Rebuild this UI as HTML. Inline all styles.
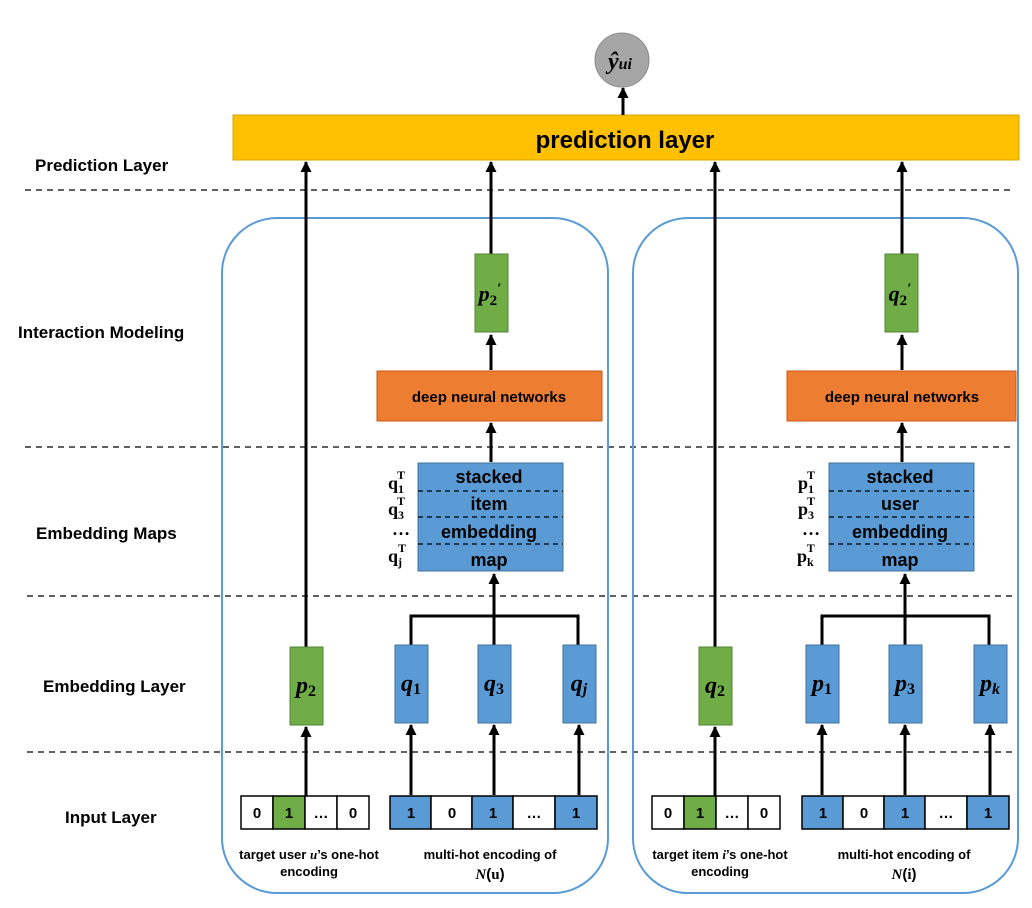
<!DOCTYPE html>
<html><head><meta charset="utf-8"><style>
html,body{margin:0;padding:0;background:#fff}
svg{display:block}
text{font-family:"Liberation Sans",sans-serif;font-weight:bold;fill:#000}
.m,.m text,.m tspan{font-family:"Liberation Serif",serif;font-style:italic;font-weight:bold}
.mn,.mn tspan{font-family:"Liberation Serif",serif;font-style:normal;font-weight:bold}
.m .up{font-style:normal}
</style></head><body>
<svg width="1032" height="908" viewBox="0 0 1032 908" xmlns="http://www.w3.org/2000/svg">
<defs>
<marker id="a" markerWidth="11" markerHeight="12" refX="10" refY="5.5" orient="auto" markerUnits="userSpaceOnUse">
<path d="M0,0 L11,5.5 L0,11 z" fill="#000"/></marker>
</defs>
<g stroke="#000" stroke-width="1.3" stroke-dasharray="6,5">
<line x1="25" y1="190" x2="1015" y2="190"/>
<line x1="25" y1="447" x2="1015" y2="447"/>
<line x1="27" y1="596" x2="1015" y2="596"/>
<line x1="27" y1="752" x2="1015" y2="752"/>
</g>
<g font-size="17">
<text x="35" y="171">Prediction Layer</text>
<text x="18" y="338">Interaction Modeling</text>
<text x="36" y="539">Embedding Maps</text>
<text x="43" y="692">Embedding Layer</text>
<text x="65" y="823">Input Layer</text>
</g>
<rect x="233" y="115" width="786" height="45" fill="#FFC000" stroke="#D9A300" stroke-width="1"/>
<text x="625" y="148" font-size="24" text-anchor="middle">prediction layer</text>
<line x1="623" y1="115" x2="623" y2="88" stroke="#000" stroke-width="3" marker-end="url(#a)"/>
<circle cx="622" cy="60" r="27" fill="#A6A6A6" stroke="#8c8c8c" stroke-width="1"/>
<text x="620" y="69" font-size="24" text-anchor="middle" class="m">ŷ<tspan font-size="16">ui</tspan></text>

<rect x="222" y="218" width="386" height="675" rx="55" fill="none" stroke="#5B9BD5" stroke-width="2"/>
<line x1="306" y1="647" x2="306" y2="162" stroke="#000" stroke-width="3" marker-end="url(#a)"/>
<line x1="491" y1="255" x2="491" y2="162" stroke="#000" stroke-width="3" marker-end="url(#a)"/>
<rect x="475" y="254" width="33" height="78" fill="#70AD47" stroke="#548235"/>
<text x="490" y="301" font-size="22" text-anchor="middle" class="m">p<tspan font-size="15" dy="4" class="up">2</tspan><tspan dy="-12" font-size="15">′</tspan></text>
<line x1="491" y1="370" x2="491" y2="335" stroke="#000" stroke-width="3" marker-end="url(#a)"/>
<rect x="377" y="371" width="225" height="50" fill="#ED7D31" stroke="#C55A11"/>
<text x="489" y="402" font-size="15" text-anchor="middle">deep neural networks</text>
<line x1="491" y1="462" x2="491" y2="423" stroke="#000" stroke-width="3" marker-end="url(#a)"/>
<rect x="418" y="463" width="145" height="108" fill="#5B9BD5" stroke="#41719C"/>
<g stroke="#000" stroke-width="1.2" stroke-dasharray="5,4">
<line x1="418" y1="491" x2="563" y2="491"/><line x1="418" y1="517" x2="563" y2="517"/><line x1="418" y1="544" x2="563" y2="544"/>
</g>
<g font-size="18" text-anchor="middle">
<text x="489" y="483">stacked</text><text x="489" y="510">item</text><text x="489" y="538">embedding</text><text x="489" y="566">map</text>
</g>
<g font-size="18">
<text x="388" y="489" class="mn">q<tspan font-size="12" dy="4">1</tspan><tspan font-size="12" dx="-7" dy="-14">T</tspan></text>
<text x="388" y="515" class="mn">q<tspan font-size="12" dy="4">3</tspan><tspan font-size="12" dx="-7" dy="-14">T</tspan></text>
<text x="392" y="535" class="mn">…</text>
<text x="388" y="562" class="mn">q<tspan font-size="12" dy="4">j</tspan><tspan font-size="12" dx="-4" dy="-14">T</tspan></text>
</g>
<path d="M411,645 V616 H578 V645" fill="none" stroke="#000" stroke-width="3"/>
<line x1="494" y1="645" x2="494" y2="574" stroke="#000" stroke-width="3" marker-end="url(#a)"/>
<rect x="290" y="647" width="33" height="78" fill="#70AD47" stroke="#548235"/>
<rect x="395" y="645" width="33" height="78" fill="#5B9BD5" stroke="#41719C"/>
<rect x="478" y="645" width="33" height="78" fill="#5B9BD5" stroke="#41719C"/>
<rect x="563" y="645" width="33" height="78" fill="#5B9BD5" stroke="#41719C"/>
<g font-size="24" text-anchor="middle" class="m">
<text x="306" y="693">p<tspan font-size="16" dy="3" class="up">2</tspan></text>
<text x="411" y="691">q<tspan font-size="16" dy="3" class="up">1</tspan></text>
<text x="494" y="691">q<tspan font-size="16" dy="3" class="up">3</tspan></text>
<text x="579" y="691">q<tspan font-size="16" dy="3">j</tspan></text>
</g>
<g stroke="#000" stroke-width="3">
<line x1="306" y1="796" x2="306" y2="727" marker-end="url(#a)"/>
<line x1="411" y1="795" x2="411" y2="725" marker-end="url(#a)"/>
<line x1="494" y1="795" x2="494" y2="725" marker-end="url(#a)"/>
<line x1="579" y1="795" x2="579" y2="725" marker-end="url(#a)"/>
</g>
<g stroke="#000" stroke-width="1.5">
<rect x="241" y="796" width="32" height="33" fill="#fff"/><rect x="273" y="796" width="32" height="33" fill="#70AD47"/>
<rect x="305" y="796" width="32" height="33" fill="#fff"/><rect x="337" y="796" width="32" height="33" fill="#fff"/>
<rect x="390" y="796" width="41" height="33" fill="#5B9BD5"/><rect x="431" y="796" width="41" height="33" fill="#fff"/>
<rect x="472" y="796" width="41" height="33" fill="#5B9BD5"/><rect x="513" y="796" width="42" height="33" fill="#fff"/>
<rect x="555" y="796" width="42" height="33" fill="#5B9BD5"/>
</g>
<g font-size="15" text-anchor="middle">
<text x="257" y="818">0</text><text x="289" y="818">1</text><text x="321" y="818">…</text><text x="353" y="818">0</text>
<text x="411" y="818">1</text><text x="452" y="818">0</text><text x="493" y="818">1</text><text x="534" y="818">…</text><text x="576" y="818">1</text>
</g>
<g font-size="13" text-anchor="middle">
<text x="309" y="859">target user <tspan class="m">u</tspan>’s one-hot</text>
<text x="309" y="876">encoding</text>
<text x="490" y="859">multi-hot encoding of</text>
<text x="490" y="879" font-size="15" font-weight="normal"><tspan class="m" font-weight="normal">N</tspan>(<tspan class="mn">u</tspan>)</text>
</g>

<rect x="633" y="218" width="385" height="675" rx="55" fill="none" stroke="#5B9BD5" stroke-width="2"/>
<line x1="715" y1="647" x2="715" y2="162" stroke="#000" stroke-width="3" marker-end="url(#a)"/>
<line x1="902" y1="255" x2="902" y2="162" stroke="#000" stroke-width="3" marker-end="url(#a)"/>
<rect x="885" y="254" width="33" height="78" fill="#70AD47" stroke="#548235"/>
<text x="900" y="301" font-size="22" text-anchor="middle" class="m">q<tspan font-size="15" dy="4" class="up">2</tspan><tspan dy="-12" font-size="15">′</tspan></text>
<line x1="902" y1="370" x2="902" y2="335" stroke="#000" stroke-width="3" marker-end="url(#a)"/>
<rect x="787" y="371" width="229" height="50" fill="#ED7D31" stroke="#C55A11"/>
<text x="902" y="402" font-size="15" text-anchor="middle">deep neural networks</text>
<line x1="902" y1="462" x2="902" y2="423" stroke="#000" stroke-width="3" marker-end="url(#a)"/>
<rect x="829" y="463" width="145" height="108" fill="#5B9BD5" stroke="#41719C"/>
<g stroke="#000" stroke-width="1.2" stroke-dasharray="5,4">
<line x1="829" y1="491" x2="974" y2="491"/><line x1="829" y1="517" x2="974" y2="517"/><line x1="829" y1="544" x2="974" y2="544"/>
</g>
<g font-size="18" text-anchor="middle">
<text x="900" y="483">stacked</text><text x="900" y="510">user</text><text x="900" y="538">embedding</text><text x="900" y="566">map</text>
</g>
<g font-size="18">
<text x="798" y="489" class="mn">p<tspan font-size="12" dy="4">1</tspan><tspan font-size="12" dx="-7" dy="-14">T</tspan></text>
<text x="798" y="515" class="mn">p<tspan font-size="12" dy="4">3</tspan><tspan font-size="12" dx="-7" dy="-14">T</tspan></text>
<text x="802" y="535" class="mn">…</text>
<text x="797" y="562" class="mn">p<tspan font-size="12" dy="4">k</tspan><tspan font-size="12" dx="-7" dy="-14">T</tspan></text>
</g>
<path d="M822,645 V616 H989 V645" fill="none" stroke="#000" stroke-width="3"/>
<line x1="905" y1="645" x2="905" y2="574" stroke="#000" stroke-width="3" marker-end="url(#a)"/>
<rect x="699" y="647" width="33" height="78" fill="#70AD47" stroke="#548235"/>
<rect x="806" y="645" width="33" height="78" fill="#5B9BD5" stroke="#41719C"/>
<rect x="889" y="645" width="33" height="78" fill="#5B9BD5" stroke="#41719C"/>
<rect x="974" y="645" width="33" height="78" fill="#5B9BD5" stroke="#41719C"/>
<g font-size="24" text-anchor="middle" class="m">
<text x="715" y="693">q<tspan font-size="16" dy="3" class="up">2</tspan></text>
<text x="822" y="691">p<tspan font-size="16" dy="3" class="up">1</tspan></text>
<text x="905" y="691">p<tspan font-size="16" dy="3" class="up">3</tspan></text>
<text x="990" y="691">p<tspan font-size="16" dy="3">k</tspan></text>
</g>
<g stroke="#000" stroke-width="3">
<line x1="715" y1="796" x2="715" y2="727" marker-end="url(#a)"/>
<line x1="822" y1="795" x2="822" y2="725" marker-end="url(#a)"/>
<line x1="905" y1="795" x2="905" y2="725" marker-end="url(#a)"/>
<line x1="990" y1="795" x2="990" y2="725" marker-end="url(#a)"/>
</g>
<g stroke="#000" stroke-width="1.5">
<rect x="652" y="796" width="32" height="33" fill="#fff"/><rect x="684" y="796" width="32" height="33" fill="#70AD47"/>
<rect x="716" y="796" width="32" height="33" fill="#fff"/><rect x="748" y="796" width="32" height="33" fill="#fff"/>
<rect x="802" y="796" width="41" height="33" fill="#5B9BD5"/><rect x="843" y="796" width="41" height="33" fill="#fff"/>
<rect x="884" y="796" width="41" height="33" fill="#5B9BD5"/><rect x="925" y="796" width="42" height="33" fill="#fff"/>
<rect x="967" y="796" width="42" height="33" fill="#5B9BD5"/>
</g>
<g font-size="15" text-anchor="middle">
<text x="668" y="818">0</text><text x="700" y="818">1</text><text x="732" y="818">…</text><text x="764" y="818">0</text>
<text x="823" y="818">1</text><text x="864" y="818">0</text><text x="905" y="818">1</text><text x="946" y="818">…</text><text x="988" y="818">1</text>
</g>
<g font-size="13" text-anchor="middle">
<text x="720" y="859">target item <tspan class="m">i</tspan>’s one-hot</text>
<text x="720" y="876">encoding</text>
<text x="904" y="859">multi-hot encoding of</text>
<text x="904" y="879" font-size="15" font-weight="normal"><tspan class="m" font-weight="normal">N</tspan>(<tspan class="mn">i</tspan>)</text>
</g>
</svg>
</body></html>
